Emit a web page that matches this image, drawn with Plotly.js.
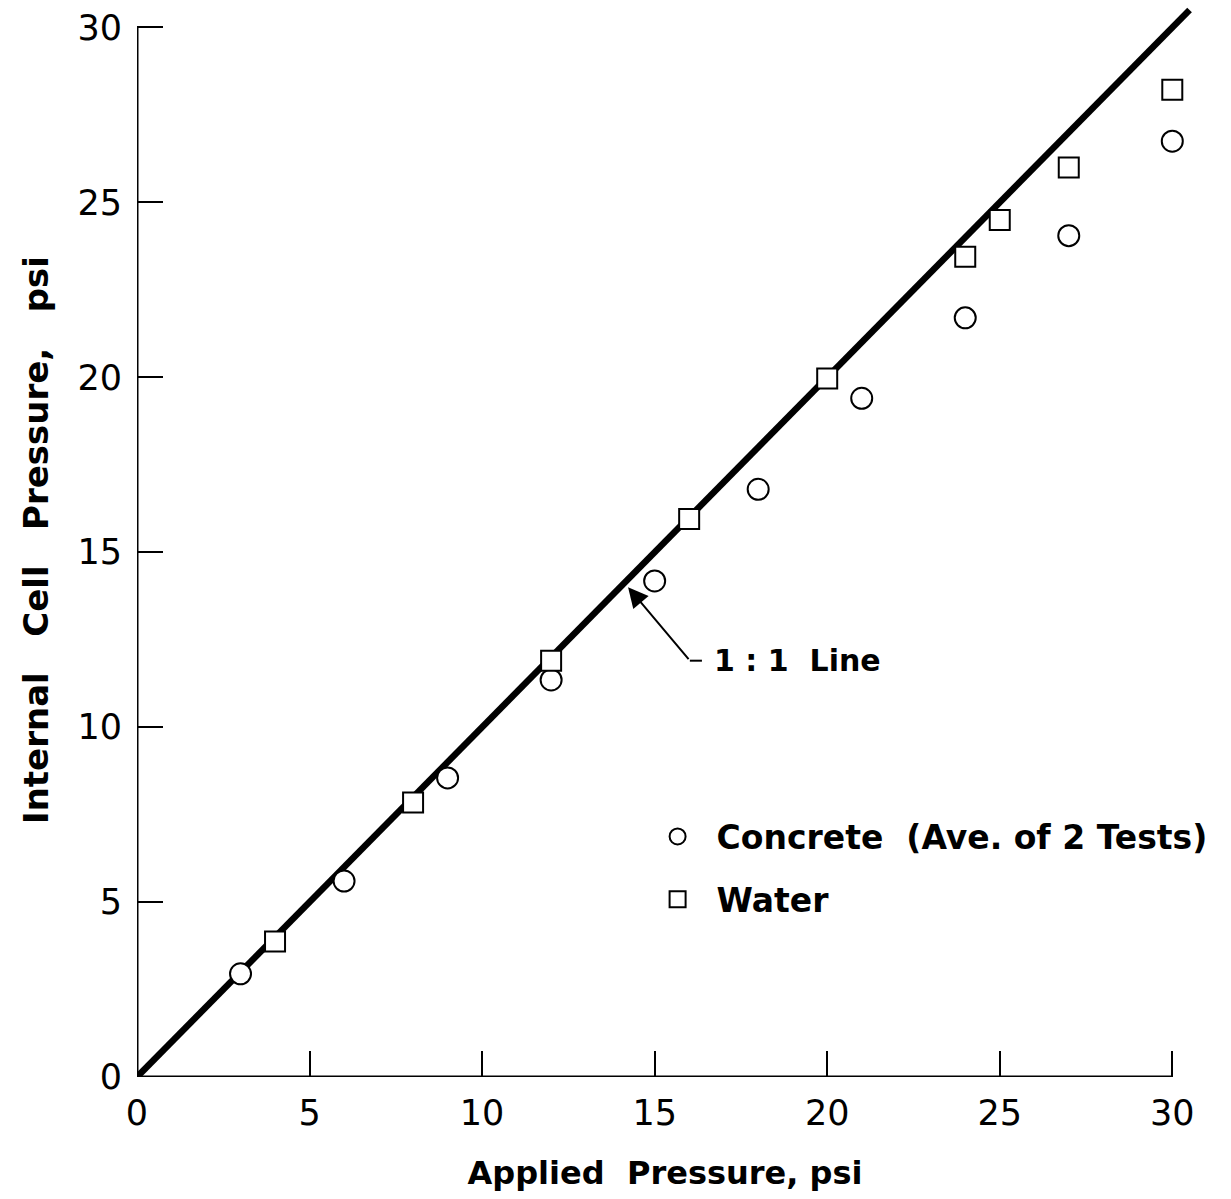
<!DOCTYPE html>
<html>
<head>
<meta charset="utf-8">
<script src="https://cdn.plot.ly/plotly-3.0.1.min.js"></script>
<style>html,body{margin:0;padding:0;background:#fff;}</style>
</head>
<body>
<div id="chart" style="width:1231px;height:1199px;"></div>
<script>
// Data
const concreteX = [3, 6, 9, 12, 15, 18, 21, 24, 27, 30];
const concreteY = [2.95, 5.6, 8.55, 11.35, 14.18, 16.8, 19.4, 21.7, 24.05, 26.75];
const waterX = [4, 8, 12, 16, 20, 24, 25, 27, 30];
const waterY = [3.87, 7.85, 11.9, 15.95, 19.97, 23.45, 24.5, 26.0, 28.22];
const oneToOneX = [0, 30.5];
const oneToOneY = [0, 30.5];
const tickVals = [0, 5, 10, 15, 20, 25, 30];
const tickText = ['0', '5', '10', '15', '20', '25', '30'];

const FONT = 'DejaVu Sans, Liberation Sans, sans-serif';

const traces = [
  {
    x: oneToOneX, y: oneToOneY, mode: 'lines', type: 'scatter',
    line: {color: '#000', width: 6.5}, showlegend: false, hoverinfo: 'skip'
  },
  {
    x: concreteX, y: concreteY, mode: 'markers', type: 'scatter',
    name: 'Concrete  (Ave. of 2 Tests)', legendgroup: 'a',
    marker: {symbol: 'circle', size: 21, color: '#fff', line: {color: '#000', width: 2}}
  },
  {
    x: waterX, y: waterY, mode: 'markers', type: 'scatter',
    name: 'Water', legendgroup: 'b',
    marker: {symbol: 'square', size: 20, color: '#fff', line: {color: '#000', width: 2}}
  }
];

const layout = {
  width: 1231, height: 1199, autosize: false,
  margin: {l: 137, r: 38, t: 3, b: 122},
  paper_bgcolor: '#fff', plot_bgcolor: '#fff',
  font: {family: FONT, color: '#000', size: 30},
  showlegend: true,
  legend: {
    x: 0.475, y: 0.25, xanchor: 'left', yanchor: 'top',
    font: {family: FONT, size: 33, color: '#000', weight: 'bold'},
    bgcolor: 'rgba(0,0,0,0)', tracegroupgap: 17, itemsizing: 'trace', itemwidth: 68
  },
  xaxis: {
    range: [0, 30.6], showgrid: false, zeroline: false, showline: false,
    tickmode: 'array', tickvals: tickVals, ticktext: tickText,
    ticks: 'inside', ticklen: 26, tickwidth: 2, tickcolor: '#000',
    tickfont: {family: FONT, size: 35, color: '#000'},
    ticklabelstandoff: 12,
    title: {text: 'Applied  Pressure, psi', font: {family: FONT, size: 32, color: '#000', weight: 'bold'}, standoff: 29},
    automargin: false
  },
  yaxis: {
    range: [0, 30.7], showgrid: false, zeroline: false, showline: false,
    tickmode: 'array', tickvals: tickVals, ticktext: tickText,
    ticks: 'inside', ticklen: 26, tickwidth: 2, tickcolor: '#000',
    tickfont: {family: FONT, size: 35, color: '#000'},
    ticklabelstandoff: 14,
    title: {text: 'Internal   Cell   Pressure,   psi', font: {family: FONT, size: 34, color: '#000', weight: 'bold'}, standoff: 18},
    automargin: false
  },
  shapes: [
    {type: 'line', xref: 'x', yref: 'y', x0: 0, y0: 0, x1: 30, y1: 0, line: {color: '#000', width: 3}},
    {type: 'line', xref: 'x', yref: 'y', x0: 0, y0: 0, x1: 0, y1: 30, line: {color: '#000', width: 3}},
    {type: 'line', xref: 'x', yref: 'y', x0: 16.02, y0: 11.9, x1: 16.37, y1: 11.9, line: {color: '#000', width: 2}}
  ],
  annotations: [
    {
      x: 14.23, y: 14.0, xref: 'x', yref: 'y', ax: 16.02, ay: 11.9, axref: 'x', ayref: 'y',
      text: '', showarrow: true, arrowhead: 2, arrowsize: 2, arrowwidth: 2, arrowcolor: '#000'
    },
    {
      x: 16.65, y: 11.9, xref: 'x', yref: 'y', xanchor: 'left', yanchor: 'middle',
      text: '1 : 1  Line', showarrow: false, font: {family: FONT, size: 30, color: '#000', weight: 'bold'}
    }
  ]
};

Plotly.newPlot('chart', traces, layout, {displayModeBar: false, staticPlot: true});
</script>
</body>
</html>
